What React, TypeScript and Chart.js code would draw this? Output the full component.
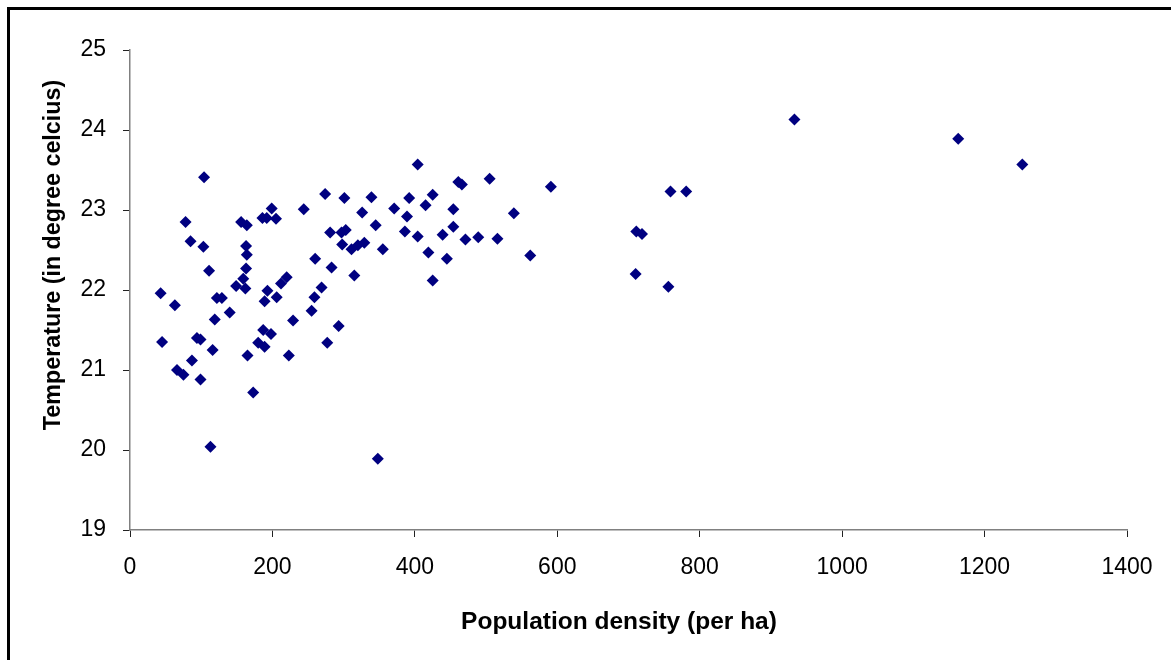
import { useEffect, useRef } from "react"
import { Chart, registerables, Plugin } from "chart.js"

Chart.register(...registerables)

// population density (per ha) for each site
const density = [
  104, 78, 85, 103, 111, 43, 63, 122, 129, 140, 119, 45, 94, 99, 116, 87, 66, 75, 99, 113,
  156, 164, 186, 192, 199, 205, 244, 163, 164, 163, 159, 149, 162, 193, 189, 206, 212, 220,
  260, 259, 269, 255, 229, 187, 198, 180, 189, 165, 223, 173,
  404, 274, 301, 339, 392, 326, 371, 415, 389, 345, 281, 297, 303, 386, 404, 298, 311, 320,
  329, 355, 419, 283, 315, 425, 293, 277, 348,
  461, 466, 505, 591, 425, 454, 539, 454, 439, 471, 489, 516, 445, 562,
  759, 781, 711, 719, 710, 756, 933, 1163, 1253,
]

// temperature (in degree celcius) for each site
const temperature = [
  23.41, 22.85, 22.61, 22.54, 22.24, 21.96, 21.81, 21.9, 21.9, 21.72, 21.63, 21.35, 21.4, 21.38,
  21.25, 21.12, 21.0, 20.94, 20.88, 20.04,
  22.85, 22.81, 22.9, 22.9, 23.02, 22.89, 23.01, 22.55, 22.44, 22.27, 22.14, 22.05, 22.02, 21.99,
  21.86, 21.91, 22.08, 22.16, 22.39, 21.91, 22.03, 21.74, 21.62, 21.5, 21.45, 21.34, 21.29,
  21.18, 21.18, 20.72,
  23.57, 23.2, 23.15, 23.16, 23.15, 22.97, 23.02, 23.06, 22.92, 22.81, 22.72, 22.72, 22.75,
  22.73, 22.67, 22.57, 22.51, 22.56, 22.59, 22.51, 22.47, 22.28, 22.18, 22.12, 21.55, 21.34,
  19.89,
  23.35, 23.32, 23.39, 23.29, 23.19, 23.01, 22.96, 22.79, 22.69, 22.63, 22.66, 22.64, 22.39, 22.43,
  23.23, 23.23, 22.73, 22.7, 22.2, 22.04, 24.13, 23.89, 23.57,
]

const xTicks = [0, 200, 400, 600, 800, 1000, 1200, 1400]
const yTicks = [19, 20, 21, 22, 23, 24, 25]

const xTitle = "Population density (per ha)"
const yTitle = "Temperature (in degree celcius)"

const FONT = "'Liberation Sans', Arial, sans-serif"

// Excel places the axis titles a little off the axis centre, so draw them by hand
const axisTitles: Plugin<"scatter"> = {
  id: "axisTitles",
  afterDraw(chart) {
    const { ctx } = chart
    ctx.save()
    ctx.fillStyle = "#000000"
    ctx.textAlign = "center"
    ctx.textBaseline = "alphabetic"
    ctx.font = `bold 24.5px ${FONT}`
    ctx.fillText(xTitle, 619, 629)
    ctx.translate(60, 255)
    ctx.rotate(-Math.PI / 2)
    ctx.font = `bold 23.3px ${FONT}`
    ctx.fillText(yTitle, 0, 0)
    ctx.restore()
  },
}

export function ScatterChart() {
  const chartRef = useRef<HTMLCanvasElement>(null)
  const chartInstance = useRef<Chart | null>(null)

  useEffect(() => {
    if (!chartRef.current) return

    if (chartInstance.current) {
      chartInstance.current.destroy()
    }

    const ctx = chartRef.current.getContext("2d")
    if (!ctx) return

    chartInstance.current = new Chart(ctx, {
      type: "scatter",
      data: {
        datasets: [
          {
            label: "Temperature",
            data: density.map((d, i) => ({ x: d, y: temperature[i] })),
            pointStyle: "rectRot",
            pointRadius: 6,
            pointBorderWidth: 0,
            backgroundColor: "#000080",
            borderColor: "#000080",
          },
        ],
      },
      plugins: [axisTitles],
      options: {
        responsive: false,
        animation: false,
        devicePixelRatio: 1,
        layout: {
          padding: { top: 50, right: 44, left: 0, bottom: 0 },
        },
        plugins: {
          legend: { display: false },
          tooltip: { enabled: false },
        },
        scales: {
          x: {
            type: "linear",
            min: 0,
            max: 1400,
            afterBuildTicks: (scale) => {
              scale.ticks = xTicks.map((v) => ({ value: v }))
            },
            afterFit: (scale) => {
              scale.height = 130
            },
            border: { display: true, color: "#808080", width: 1.5 },
            grid: {
              drawOnChartArea: false,
              drawTicks: true,
              tickLength: 7,
              color: "#222222",
            },
            ticks: {
              padding: 17,
              color: "#000000",
              maxRotation: 0,
              callback: (v) => String(v),
              font: { family: FONT, size: 23 },
            },
          },
          y: {
            type: "linear",
            min: 19,
            max: 25,
            afterBuildTicks: (scale) => {
              scale.ticks = yTicks.map((v) => ({ value: v }))
            },
            afterFit: (scale) => {
              scale.width = 130
            },
            border: { display: true, color: "#808080", width: 1.5 },
            grid: {
              drawOnChartArea: false,
              drawTicks: true,
              tickLength: 7,
              color: "#222222",
            },
            ticks: {
              padding: 17,
              color: "#000000",
              callback: (v) => String(v),
              font: { family: FONT, size: 23 },
            },
          },
        },
      },
    })

    return () => {
      if (chartInstance.current) {
        chartInstance.current.destroy()
        chartInstance.current = null
      }
    }
  }, [])

  return <canvas ref={chartRef} width={1171} height={660} style={{ display: "block" }} />
}

export default function App() {
  return (
    <div style={{ position: "fixed", left: 0, top: 0, width: 1171, height: 660, background: "#ffffff", overflow: "hidden" }}>
      <ScatterChart />
      {/* outer frame, cut off at the right and bottom */}
      <div
        style={{
          position: "absolute",
          left: 7,
          top: 7,
          width: 1200,
          height: 700,
          borderLeft: "3px solid #000",
          borderTop: "3px solid #000",
          pointerEvents: "none",
        }}
      />
    </div>
  )
}
